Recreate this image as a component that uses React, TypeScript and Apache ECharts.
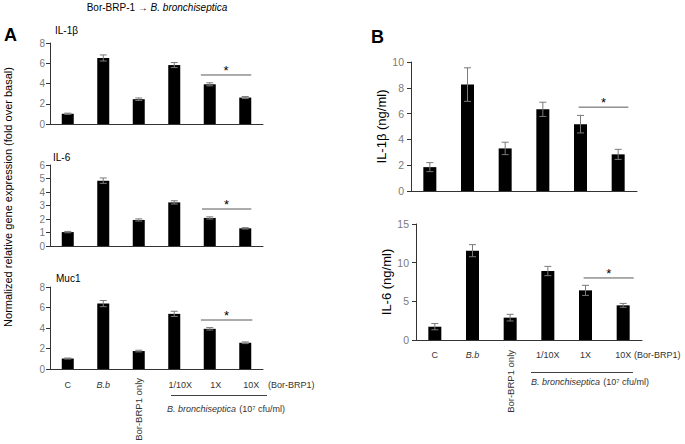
import React, { useEffect, useRef } from "react";
import * as echarts from "echarts";

const FONT = "Liberation Sans, Arial, sans-serif";

const categories = ["C", "B.b", "Bor-BRP1 only", "1/10X", "1X", "10X"];

// Panel A (fold over basal)
const aIL1bValues = [1.01, 6.52, 2.45, 5.82, 3.92, 2.61];
const aIL1bErrors = [0.06, 0.3, 0.12, 0.25, 0.15, 0.1];
const aIL6Values = [1.03, 4.84, 1.93, 3.23, 2.08, 1.31];
const aIL6Errors = [0.05, 0.2, 0.08, 0.12, 0.08, 0.05];
const aMuc1Values = [1.02, 6.38, 1.75, 5.38, 3.92, 2.56];
const aMuc1Errors = [0.05, 0.3, 0.08, 0.25, 0.12, 0.08];

// Panel B (ng/ml)
const bIL1bValues = [1.85, 8.25, 3.3, 6.33, 5.18, 2.84];
const bIL1bErrors = [0.35, 1.3, 0.48, 0.55, 0.68, 0.39];
const bIL6Values = [1.72, 11.55, 2.89, 8.92, 6.42, 4.48];
const bIL6Errors = [0.4, 0.78, 0.43, 0.6, 0.65, 0.25];

// significance bar heights (value units)
const sigLevels = [4.84, 2.74, 4.78, 6.5, 8.02];

const yMins = [0, 0, 0, 0, 0];
const yMaxs = [8, 6, 8, 10, 15];
const yIntervals = [2, 1, 2, 2, 5];

export default function App() {
  const ref = useRef<HTMLDivElement>(null);

  useEffect(() => {
    if (!ref.current) return;
    const chart = echarts.init(ref.current, undefined, { renderer: "svg" });

    const grids = [
      { left: 50, top: 43, width: 213, height: 81 },
      { left: 50, top: 165, width: 213, height: 81 },
      { left: 50, top: 287, width: 213, height: 82 },
      { left: 411, top: 62, width: 226, height: 129 },
      { left: 416, top: 224, width: 226, height: 116 },
    ];
    const valueSets = [aIL1bValues, aIL6Values, aMuc1Values, bIL1bValues, bIL6Values];
    const errorSets = [aIL1bErrors, aIL6Errors, aMuc1Errors, bIL1bErrors, bIL6Errors];
    const isB = [false, false, false, true, true];
    const showLabels = [false, false, true, false, true];
    const sigStart = [-0.25, -0.22, -0.25, -0.05, -0.05];
    const sigEnd = [0.17, 0.17, 0.2, 0.27, 0.28];
    const yNames = ["", "", "", "IL-1β (ng/ml)", "IL-6 (ng/ml)"];
    const nameGaps = [0, 0, 0, 21, 21];

    const xAxis = grids.map((_, i) => ({
      type: "category",
      gridIndex: i,
      data: categories,
      axisLine: { lineStyle: { color: "#333", width: 1 } },
      axisTick: { show: false },
      axisLabel: showLabels[i]
        ? {
            show: true,
            interval: 0,
            margin: isB[i] ? 10 : 11,
            fontSize: 9,
            fontFamily: FONT,
            color: "#333",
            formatter: (v: string, idx: number) => {
              if (idx === 1) return "{it|" + v + "}";
              if (idx === 2) return "";
              if (!isB[i] && idx >= 3) return "{sh|" + v + "}";
              return v;
            },
            rich: {
              it: { fontStyle: "italic", fontSize: 9, fontFamily: FONT, color: "#333" },
              sh: { fontSize: 9, fontFamily: FONT, color: "#333", padding: [0, 0, 0, 12] },
            },
          }
        : { show: false },
      splitLine: { show: false },
    }));

    const yAxis = grids.map((_, i) => ({
      type: "value",
      gridIndex: i,
      min: yMins[i],
      max: yMaxs[i],
      interval: yIntervals[i],
      axisLine: { show: true, lineStyle: { color: "#333", width: 1 } },
      axisTick: { show: true, length: 4, lineStyle: { color: "#333" } },
      axisLabel: { fontSize: isB[i] ? 10.5 : 10, fontFamily: FONT, color: "#7a7a7a", margin: isB[i] ? 7 : 5 },
      splitLine: { show: false },
      name: yNames[i],
      nameLocation: "middle",
      nameGap: nameGaps[i],
      nameRotate: 90,
      nameTextStyle: { fontSize: 13, fontFamily: FONT, color: "#000" },
    }));

    const series: any[] = [];
    grids.forEach((_, i) => {
      series.push({
        type: "bar",
        xAxisIndex: i,
        yAxisIndex: i,
        data: valueSets[i],
        barWidth: isB[i] ? 13 : 12,
        itemStyle: { color: "#000" },
        z: 2,
      });
      series.push({
        type: "custom",
        xAxisIndex: i,
        yAxisIndex: i,
        z: 3,
        clip: false,
        data: valueSets[i].map((v, k) => [k, v, errorSets[i][k]]),
        encode: { x: 0, y: 1 },
        renderItem: (params: any, api: any) => {
          const x = api.value(0);
          const v = api.value(1);
          const e = api.value(2);
          const top = api.coord([x, v + e]);
          const bot = api.coord([x, v - e]);
          const hw = 3.5;
          const st = { stroke: "#7a7a7a", lineWidth: 1 };
          return {
            type: "group",
            children: [
              { type: "line", shape: { x1: top[0], y1: top[1], x2: bot[0], y2: bot[1] }, style: st },
              { type: "line", shape: { x1: top[0] - hw, y1: top[1], x2: top[0] + hw, y2: top[1] }, style: st },
              { type: "line", shape: { x1: bot[0] - hw, y1: bot[1], x2: bot[0] + hw, y2: bot[1] }, style: st },
            ],
          };
        },
      });
      series.push({
        type: "custom",
        xAxisIndex: i,
        yAxisIndex: i,
        z: 3,
        clip: false,
        data: [[4, sigLevels[i]]],
        encode: { x: 0, y: 1 },
        renderItem: (params: any, api: any) => {
          const y = api.value(1);
          const a = api.coord([4, y]);
          const b = api.coord([5, y]);
          const band = api.size([1, 0])[0];
          const x1 = a[0] + sigStart[i] * band;
          const x2 = b[0] + sigEnd[i] * band;
          return {
            type: "group",
            children: [
              { type: "line", shape: { x1, y1: a[1], x2, y2: a[1] }, style: { stroke: "#595959", lineWidth: 1 } },
              {
                type: "text",
                x: (x1 + x2) / 2,
                y: a[1] - 4.5,
                style: { text: "*", fontSize: 13, fontFamily: FONT, fill: "#000", align: "center", verticalAlign: "middle" },
              },
            ],
          };
        },
      });
      if (showLabels[i]) {
        series.push({
          type: "custom",
          xAxisIndex: i,
          yAxisIndex: i,
          z: 3,
          clip: false,
          data: [[2, 0]],
          encode: { x: 0, y: 1 },
          renderItem: (params: any, api: any) => {
            const p = api.coord([api.value(0), 0]);
            return {
              type: "text",
              x: p[0],
              y: p[1] + (isB[i] ? 10 : 9),
              rotation: Math.PI / 2,
              style: {
                text: categories[2],
                fontSize: 9.5,
                fontFamily: FONT,
                fill: "#333",
                align: "right",
                verticalAlign: "middle",
              },
            };
          },
        });
      }
    });

    const txt = (x: number, y: number, text: string, extra: any = {}) => ({
      type: "text",
      x,
      y,
      style: { text, fontFamily: FONT, fill: "#000", fontSize: 10, align: "left", verticalAlign: "middle", ...extra },
    });

    const graphic: any[] = [
      {
        type: "text",
        x: 157,
        y: 7,
        style: {
          text: "{n|Bor-BRP-1 → }{i|B. bronchiseptica}",
          align: "center",
          verticalAlign: "middle",
          rich: {
            n: { fontSize: 10, fontFamily: FONT, fill: "#000" },
            i: { fontSize: 10, fontFamily: FONT, fill: "#000", fontStyle: "italic" },
          },
        },
      },
      txt(10.5, 35, "A", { fontSize: 18, fontWeight: "bold", align: "center" }),
      txt(377.5, 37, "B", { fontSize: 18, fontWeight: "bold", align: "center" }),
      txt(55, 30, "IL-1β"),
      txt(53, 157, "IL-6"),
      txt(56, 278, "Muc1"),
      {
        type: "text",
        x: 8,
        y: 197,
        rotation: Math.PI / 2,
        style: {
          text: "Normalized relative gene expression (fold over basal)",
          fontSize: 11,
          fontFamily: FONT,
          fill: "#000",
          align: "center",
          verticalAlign: "middle",
        },
      },
      txt(268, 385, "(Bor-BRP1)", { fontSize: 9, fill: "#333" }),
      txt(634, 355, "(Bor-BRP1)", { fontSize: 9, fill: "#333" }),
      { type: "line", shape: { x1: 171, y1: 395.5, x2: 267, y2: 395.5 }, style: { stroke: "#404040", lineWidth: 1 } },
      { type: "line", shape: { x1: 531, y1: 372.5, x2: 633, y2: 372.5 }, style: { stroke: "#404040", lineWidth: 1 } },
      {
        type: "text",
        x: 226,
        y: 409,
        style: {
          text: "{i|B. bronchiseptica} {n|(10⁷ cfu/ml)}",
          align: "center",
          verticalAlign: "middle",
          rich: {
            n: { fontSize: 9, fontFamily: FONT, fill: "#333" },
            i: { fontSize: 9, fontFamily: FONT, fill: "#333", fontStyle: "italic" },
          },
        },
      },
      {
        type: "text",
        x: 590,
        y: 382,
        style: {
          text: "{i|B. bronchiseptica} {n|(10⁷ cfu/ml)}",
          align: "center",
          verticalAlign: "middle",
          rich: {
            n: { fontSize: 9, fontFamily: FONT, fill: "#333" },
            i: { fontSize: 9, fontFamily: FONT, fill: "#333", fontStyle: "italic" },
          },
        },
      },
    ];

    chart.setOption({
      animation: false,
      backgroundColor: "#fff",
      textStyle: { fontFamily: FONT },
      grid: grids.map((g) => ({ ...g, containLabel: false })),
      xAxis,
      yAxis,
      series,
      graphic,
    });

    return () => chart.dispose();
  }, []);

  return (
    <div
      ref={ref}
      style={{ position: "fixed", left: 0, top: 0, width: 685, height: 444 }}
    />
  );
}
